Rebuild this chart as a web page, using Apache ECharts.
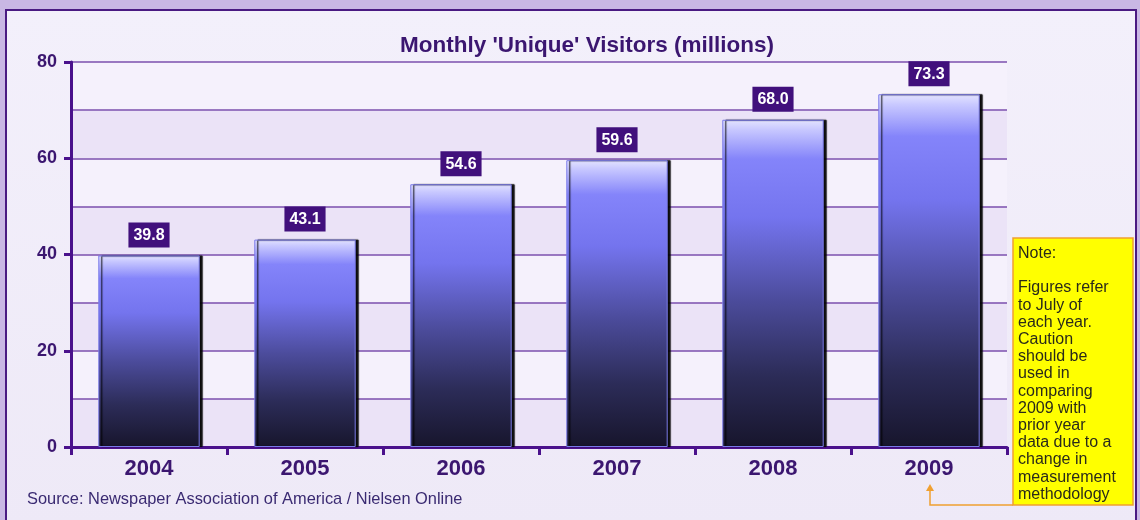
<!DOCTYPE html>
<html>
<head>
<meta charset="utf-8">
<script src="https://cdn.jsdelivr.net/npm/echarts@6/dist/echarts.min.js"></script>
<style>
  html, body { margin: 0; padding: 0; background: #c9b7e4; }
  #chart { width: 1140px; height: 520px; }
</style>
</head>
<body>
<div id="chart"></div>
<script>
// Monthly unique visitors to newspaper websites, July of each year (millions)
const years = ['2004', '2005', '2006', '2007', '2008', '2009'];
const visitors = [39.8, 43.1, 54.6, 59.6, 68.0, 73.3];
const yTicks = [0, 20, 40, 60, 80];

const titleText = "Monthly 'Unique' Visitors (millions)";
const sourceText = 'Source: Newspaper Association of America / Nielsen Online';
const noteLines = [
  'Note:', '', 'Figures refer', 'to July of', 'each year.', 'Caution', 'should be',
  'used in', 'comparing', '2009 with', 'prior year', 'data due to a', 'change in',
  'measurement', 'methodology'
];

const FONT = '"Liberation Sans", Arial, sans-serif';
const PURPLE = '#4a118c';
const TEXT_PURPLE = '#3b1670';

const chart = echarts.init(document.getElementById('chart'), null, { renderer: 'canvas' });

const barGradient = new echarts.graphic.LinearGradient(0, 0, 0, 1, [
  { offset: 0, color: '#e4e4ff' },
  { offset: 0.03, color: '#c8c8ff' },
  { offset: 0.12, color: '#8484fa' },
  { offset: 0.3, color: '#7474ee' },
  { offset: 0.55, color: '#4c4c9c' },
  { offset: 0.78, color: '#2c2c58' },
  { offset: 1, color: '#17152c' }
]);

chart.setOption({
  animation: false,
  backgroundColor: 'transparent',
  title: {
    text: titleText,
    left: 582,
    top: 29,
    textAlign: 'center',
    textStyle: { fontFamily: FONT, fontSize: 22.5, fontWeight: 'bold', color: TEXT_PURPLE }
  },
  graphic: [
    // inner panel with dark frame
    {
      type: 'rect', z: -10, silent: true,
      shape: { x: 6, y: 10, width: 1130, height: 516 },
      style: {
        fill: new echarts.graphic.LinearGradient(0, 0, 0, 1, [
          { offset: 0, color: '#f3f0fb' },
          { offset: 1, color: '#eee9f7' }
        ]),
        stroke: '#4a1a82', lineWidth: 2
      }
    },
    {
      type: 'text', left: 27, top: 491, silent: true,
      style: { text: sourceText, font: '16.4px ' + FONT, fill: '#3a2a72' }
    },
    // note box
    {
      type: 'rect', silent: true, z: 5,
      shape: { x: 1013, y: 238, width: 120, height: 267 },
      style: { fill: '#ffff00', stroke: '#f0a030', lineWidth: 1.5 }
    },
    {
      type: 'text', silent: true, z: 6, left: 1018, top: 245,
      style: { text: noteLines.join('\n'), font: '16px ' + FONT, lineHeight: 17.2, fill: '#2a2a1a' }
    },
    // pointer from note to the 2009 label
    {
      type: 'polyline', silent: true, z: 5,
      shape: { points: [[1013, 505], [930, 505], [930, 489]] },
      style: { stroke: '#f0a030', lineWidth: 1.5, fill: null }
    },
    {
      type: 'polygon', silent: true, z: 5,
      shape: { points: [[926, 491], [934, 491], [930, 484]] },
      style: { fill: '#f0a030' }
    }
  ],
  grid: { left: 71, right: 133, top: 62, bottom: 73, containLabel: false },
  xAxis: {
    type: 'category',
    data: years,
    axisLine: { lineStyle: { color: PURPLE, width: 3 } },
    axisTick: { show: true, alignWithLabel: false, length: 8, lineStyle: { color: PURPLE, width: 3 } },
    axisLabel: { fontFamily: FONT, fontSize: 22, fontWeight: 'bold', color: TEXT_PURPLE, margin: 11 }
  },
  yAxis: [
    {
      type: 'value', min: 0, max: 80, interval: 20,
      axisLine: { show: true, lineStyle: { color: PURPLE, width: 3 } },
      axisTick: { show: true, length: 7, lineStyle: { color: PURPLE, width: 3 } },
      axisLabel: { fontFamily: FONT, fontSize: 18, fontWeight: 'bold', color: TEXT_PURPLE, margin: 14 },
      splitLine: { show: false },
      data: yTicks
    },
    {
      // finer gridlines and alternating bands every 10
      type: 'value', min: 0, max: 80, interval: 10, position: 'left',
      axisLine: { show: false }, axisTick: { show: false }, axisLabel: { show: false },
      splitLine: { show: true, lineStyle: { color: '#7b4fae', width: 1.5 } },
      splitArea: { show: true, areaStyle: { color: ['#ebe3f7', '#f5f1fc'] } }
    }
  ],
  series: [{
    type: 'bar',
    data: visitors,
    barWidth: '65%',
    itemStyle: {
      color: barGradient,
      borderColor: '#7a7ae8', borderWidth: 1,
      shadowColor: 'rgba(0,0,0,0.95)', shadowOffsetX: 3, shadowOffsetY: 0, shadowBlur: 1
    },
    label: {
      show: true,
      position: 'top',
      distance: 8,
      formatter: p => p.value.toFixed(1),
      fontFamily: FONT, fontSize: 16, fontWeight: 'bold', color: '#ffffff',
      backgroundColor: '#41107c',
      padding: [5, 5, 4, 5]
    }
  }]
});
</script>
</body>
</html>
